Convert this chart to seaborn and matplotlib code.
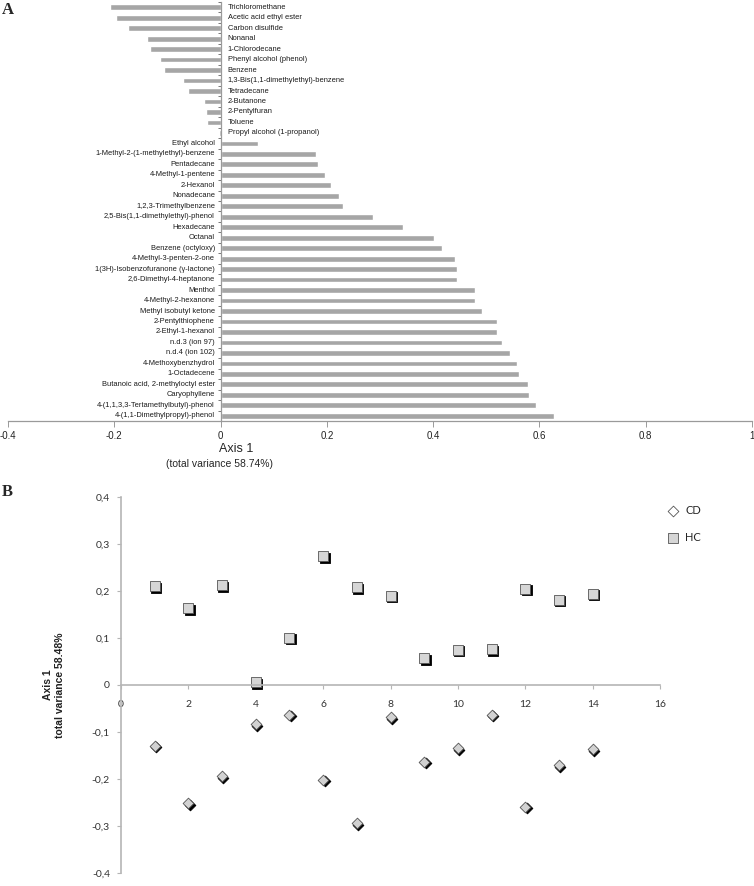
import pandas as pd
import seaborn as sns
import matplotlib.pyplot as plt
from matplotlib.transforms import ScaledTranslation

# panel A: loadings on axis 1
compounds = [
    "Trichloromethane", "Acetic acid ethyl ester", "Carbon disulfide", "Nonanal",
    "1-Chlorodecane", "Phenyl alcohol (phenol)", "Benzene",
    "1,3-Bis(1,1-dimethylethyl)-benzene", "Tetradecane", "2-Butanone",
    "2-Pentylfuran", "Toluene", "Propyl alcohol (1-propanol)", "Ethyl alcohol",
    "1-Methyl-2-(1-methylethyl)-benzene", "Pentadecane", "4-Methyl-1-pentene",
    "2-Hexanol", "Nonadecane", "1,2,3-Trimethylbenzene",
    "2,5-Bis(1,1-dimethylethyl)-phenol", "Hexadecane", "Octanal",
    "Benzene (octyloxy)", "4-Methyl-3-penten-2-one",
    "1(3H)-Isobenzofuranone (γ-lactone)", "2,6-Dimethyl-4-heptanone", "Menthol",
    "4-Methyl-2-hexanone", "Methyl isobutyl ketone", "2-Pentylthiophene",
    "2-Ethyl-1-hexanol", "n.d.3 (ion 97)", "n.d.4 (ion 102)",
    "4-Methoxybenzhydrol", "1-Octadecene", "Butanoic acid, 2-methyloctyl ester",
    "Caryophyllene", "4-(1,1,3,3-Tertamethylbutyl)-phenol",
    "4-(1,1-Dimethylpropyl)-phenol",
]
loadings = [
    -0.209, -0.197, -0.175, -0.139, -0.132, -0.114, -0.107, -0.071, -0.061,
    -0.032, -0.028, -0.025, -0.003, 0.071, 0.179, 0.184, 0.196, 0.207, 0.223,
    0.231, 0.287, 0.344, 0.402, 0.417, 0.441, 0.444, 0.445, 0.479, 0.479,
    0.492, 0.521, 0.521, 0.529, 0.544, 0.557, 0.561, 0.579, 0.581, 0.594,
    0.627,
]
a_ticks = [-0.4, -0.2, 0, 0.2, 0.4, 0.6, 0.8, 1]
a_tick_labels = ["-0.4", "-0.2", "0", "0.2", "0.4", "0.6", "0.8", "1"]

# panel B: sample scores
samples = [1, 2, 3, 4, 5, 6, 7, 8, 9, 10, 11, 12, 13, 14]
cd_scores = [-0.129, -0.252, -0.194, -0.084, -0.063, -0.202, -0.294, -0.069,
             -0.164, -0.135, -0.064, -0.259, -0.171, -0.137]
hc_scores = [0.210, 0.163, 0.212, 0.006, 0.101, 0.274, 0.208, 0.190,
             0.057, 0.075, 0.076, 0.205, 0.181, 0.194]
b_yticks = [-0.4, -0.3, -0.2, -0.1, 0, 0.1, 0.2, 0.3, 0.4]
b_ytick_labels = ["-0,4", "-0,3", "-0,2", "-0,1", "0", "0,1", "0,2", "0,3", "0,4"]
b_xticks = [0, 2, 4, 6, 8, 10, 12, 14, 16]

W, H = 754, 886


def set_config():
    sns.set_theme(style="white")
    plt.rcParams["font.family"] = ["Liberation Sans", "DejaVu Sans"]


def draw_loadings(fig):
    ax = fig.add_axes([8 / W, 1 - 421 / H, 744 / W, 419 / H])
    df = pd.DataFrame({"compound": compounds, "loading": loadings})
    sns.barplot(data=df, x="loading", y="compound", orient="h", color="#a6a6a6",
                saturation=1, width=0.55, ax=ax)

    ax.set_xlim(-0.4, 1)
    ax.set_xticks(a_ticks, labels=a_tick_labels)
    ax.set_yticks([i - 0.5 for i in range(len(compounds) + 1)], labels=[])
    ax.set_xlabel("")
    ax.set_ylabel("")
    sns.despine(ax=ax)
    ax.spines["left"].set_position(("data", 0))
    for s in ["left", "bottom"]:
        ax.spines[s].set_color("#9a9a9a")
        ax.spines[s].set_linewidth(0.9)
    ax.tick_params(axis="y", left=True, length=2.5, width=0.7, color="#777777")
    ax.tick_params(axis="x", bottom=True, length=4, width=0.7, color="#9a9a9a",
                   labelsize=7, pad=3, labelcolor="#222222")

    for i, (name, val) in enumerate(zip(compounds, loadings)):
        if val < 0:
            ax.annotate(name, (0, i), xytext=(5, 0), textcoords="offset points",
                        ha="left", va="center", fontsize=5.4, color="#1a1a1a")
        else:
            ax.annotate(name, (0, i), xytext=(-4, 0), textcoords="offset points",
                        ha="right", va="center", fontsize=5.4, color="#1a1a1a")

    fig.text(236 / W, 1 - 449 / H, "Axis 1", ha="center", va="center", fontsize=9)
    fig.text(220 / W, 1 - 464 / H, "(total variance 58.74%)", ha="center",
             va="center", fontsize=7.5)
    fig.text(2 / W, 1 - 10 / H, "A", ha="left", va="center", fontsize=12,
             fontweight="bold", family=["Liberation Serif", "DejaVu Serif"])


def draw_scores(fig):
    ax = fig.add_axes([121 / W, 1 - 873 / H, 539 / W, 376 / H])
    shift = ax.transData + ScaledTranslation(1.4 / 100, -1.4 / 100, fig.dpi_scale_trans)

    groups = [("CD", cd_scores, "D", 30, "#d2d2d2"),
              ("HC", hc_scores, "s", 46, "#d6d6d6")]
    for name, scores, marker, size, fill in groups:
        # black drop shadow, same points shifted a little down-right
        sns.scatterplot(x=samples, y=scores, marker=marker, s=size, color="black",
                        edgecolor="black", linewidth=0.6, ax=ax)
        ax.collections[-1].set_offset_transform(shift)
        sns.scatterplot(x=samples, y=scores, marker=marker, s=size, color=fill,
                        edgecolor="#555555", linewidth=0.6, label=name, ax=ax)

    ax.set_xlim(0, 16)
    ax.set_ylim(-0.4, 0.4)
    ax.set_xticks(b_xticks, labels=[str(t) for t in b_xticks])
    ax.set_yticks(b_yticks, labels=b_ytick_labels)
    ax.set_xlabel("")
    ax.set_ylabel("")
    sns.despine(ax=ax)
    ax.spines["bottom"].set_position(("data", 0))
    for s in ["left", "bottom"]:
        ax.spines[s].set_color("#b5b5b5")
        ax.spines[s].set_linewidth(1.2)
    ax.tick_params(axis="both", length=3, width=0.8, color="#b5b5b5",
                   labelsize=7.5, labelcolor="#333333")
    ax.tick_params(axis="x", bottom=True, pad=8)
    ax.tick_params(axis="y", left=True, pad=5)
    for lab in ax.get_xticklabels() + ax.get_yticklabels():
        lab.set_family(["Lato", "DejaVu Sans"])

    leg = ax.legend(loc="upper left", bbox_to_anchor=(0.985, 1.005), frameon=False,
                    labelspacing=1.4, handletextpad=0.1,
                    prop={"family": ["Lato", "DejaVu Sans"], "size": 8})
    leg.legend_handles[0].set_facecolor("white")

    fig.text(54 / W, 1 - 685 / H, "Axis 1\ntotal variance 58.48%", rotation=90,
             ha="center", va="center", multialignment="center", fontsize=7.5,
             fontweight="bold", color="#222222")
    fig.text(2 / W, 1 - 492 / H, "B", ha="left", va="center", fontsize=12,
             fontweight="bold", family=["Liberation Serif", "DejaVu Serif"])


def main():
    set_config()
    fig = plt.figure(figsize=(W / 100, H / 100), dpi=100)
    draw_loadings(fig)
    draw_scores(fig)
    fig.savefig("out.png", dpi=100)


if __name__ == "__main__":
    main()
